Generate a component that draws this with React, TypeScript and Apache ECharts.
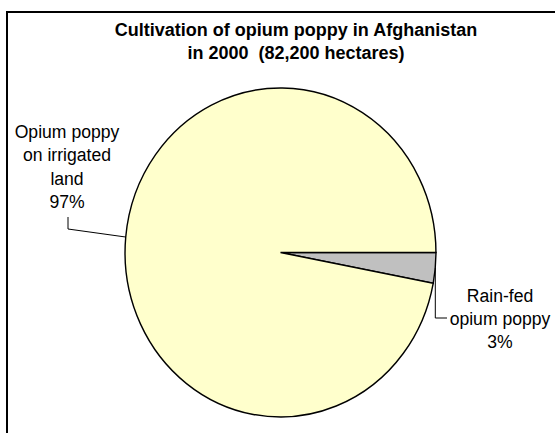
import { useEffect, useRef } from 'react';
import * as echarts from 'echarts';

// Chart content
const titleLines = ['Cultivation of opium poppy in Afghanistan', 'in 2000  (82,200 hectares)'];
const sliceNames = ['Rain-fed\nopium poppy', 'Opium poppy\non irrigated\nland'];
const sliceShares = [3, 97];
const sliceColors = ['#C0C0C0', '#FFFFCC'];

// Pie geometry (the pie is drawn slightly narrower than it is tall)
const PIE = { cx: 280.5, cy: 252.5, rx: 155.5, ry: 164.5 };
const FONT = '"Liberation Sans", Arial, Helvetica, sans-serif';

// Label placement: text centre and leader-line elbows (after the rim point)
const labelPlacement = [
  { x: 500, y: 319, elbows: (rimX: number) => [[rimX, 318], [447, 318]] },
  { x: 67, y: 167, elbows: (_rimX: number) => [[68, 229], [68, 217]] },
];

export default function App() {
  const ref = useRef<HTMLDivElement>(null);

  useEffect(() => {
    if (!ref.current) return;
    const chart = echarts.init(ref.current, undefined, { renderer: 'svg' });
    const total = sliceShares.reduce((a, b) => a + b, 0);

    chart.setOption({
      animation: false,
      backgroundColor: '#ffffff',
      graphic: [
        {
          type: 'rect',
          shape: { x: 7, y: 12, width: 700, height: 600 },
          style: { fill: 'none', stroke: '#000000', lineWidth: 2 },
          silent: true,
        },
        {
          type: 'text',
          x: 296,
          y: 41,
          style: {
            text: titleLines.join('\n'),
            fontSize: 18,
            fontWeight: 'bold',
            fontFamily: FONT,
            fill: '#000000',
            align: 'center',
            verticalAlign: 'middle',
            lineHeight: 23,
          },
          silent: true,
        },
      ],
      series: [
        {
          type: 'custom',
          coordinateSystem: 'none',
          data: sliceShares.map((v, i) => ({ value: [v], name: sliceNames[i] })),
          renderItem: (params: any, api: any) => {
            const i = params.dataIndex;
            const before = sliceShares.slice(0, i).reduce((a, b) => a + b, 0);
            const value = api.value(0);
            const start = (before / total) * Math.PI * 2;
            const end = ((before + value) / total) * Math.PI * 2;
            const mid = (start + end) / 2;
            const rimX = PIE.cx + PIE.rx * Math.cos(mid);
            const rimY = PIE.cy + PIE.ry * Math.sin(mid);
            const place = labelPlacement[i];
            const points = [[rimX, rimY], ...place.elbows(rimX)];
            return {
              type: 'group',
              children: [
                {
                  type: 'sector',
                  x: PIE.cx,
                  y: PIE.cy,
                  scaleX: PIE.rx / PIE.ry,
                  shape: {
                    cx: 0,
                    cy: 0,
                    r0: 0,
                    r: PIE.ry,
                    startAngle: start,
                    endAngle: end,
                    clockwise: true,
                  },
                  style: {
                    fill: sliceColors[i],
                    stroke: '#000000',
                    lineWidth: 1.5,
                    strokeNoScale: true,
                  },
                },
                {
                  type: 'polyline',
                  shape: { points },
                  style: { fill: 'none', stroke: '#000000', lineWidth: 1 },
                },
                {
                  type: 'text',
                  x: place.x,
                  y: place.y,
                  style: {
                    text: `${sliceNames[i]}\n${value}%`,
                    fontSize: 17.6,
                    fontFamily: FONT,
                    fill: '#000000',
                    align: 'center',
                    verticalAlign: 'middle',
                    lineHeight: 23.3,
                  },
                },
              ],
            };
          },
        },
      ],
    });

    return () => chart.dispose();
  }, []);

  return (
    <div
      ref={ref}
      style={{ position: 'fixed', left: 0, top: 0, width: 555, height: 433, background: '#fff' }}
    />
  );
}
